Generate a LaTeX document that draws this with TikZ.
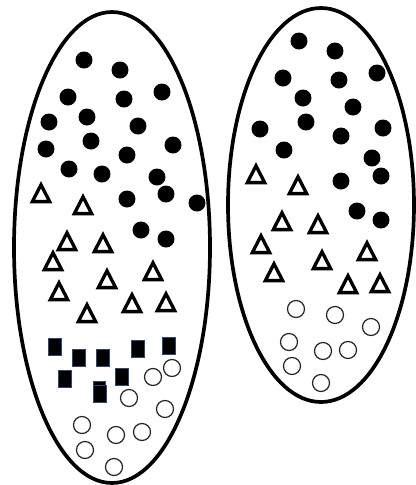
\documentclass[tikz,border=0pt]{standalone}
\usetikzlibrary{shapes.geometric}
\definecolor{sqborder}{HTML}{2F4670}
\tikzset{
  cell/.style={draw=black, line width=2.1pt, fill=white},
  dot/.style={circle, fill=black, inner sep=0pt, minimum size=0.34cm},
  ring/.style={circle, draw=black!85, line width=0.7pt, inner sep=0pt, minimum size=0.34cm},
  tri/.style={regular polygon, regular polygon sides=3, draw=black, line width=1.9pt, inner sep=0pt, minimum size=0.40cm, miter limit=4, yscale=1.12, transform shape},
  sq/.style={rectangle, fill=black, draw=sqborder, line width=0.5pt, inner sep=0pt, minimum width=0.27cm, minimum height=0.33cm},
}
\begin{document}
\begin{tikzpicture}[x=0.02cm, y=-0.02cm]
\useasboundingbox (0,0) rectangle (416,485);
% cells
\draw[cell] (112,247.5) ellipse [x radius=98, y radius=235.5];
\draw[cell] (321,205) ellipse [x radius=93, y radius=197];
% left cell: filled dots
\foreach \x/\y [count=\i] in {84/60,120/70,162/92,68/97,124/99,49/122,87/117,138/126,46/149,91/141,173/145,127/155,69/169,102/174,157/177,166/194,127/199,197/203,141/230,166/239}
  \node[dot] (ld\i) at (\x,\y) {};
% left cell: triangles
\foreach \x/\y [count=\i] in {41/196,83/208,67/244,103/246,53/264,153/274,107/282,59/294,166/305,132/306,87/316}
  \node[tri] (lt\i) at (\x,\y) {};
% left cell: squares
\foreach \x/\y [count=\i] in {55/347,79/358,103/358,138/349,169/346,65/379,122/377}
  \node[sq] (ls\i) at (\x,\y) {};
\node[sq, minimum width=0.24cm, minimum height=0.28cm] (ls8) at (99,388) {};
\node[sq] (ls9) at (100,394) {};
% left cell: open circles
\foreach \x/\y [count=\i] in {153/377,172/368,129/398,165/409,82/425,116/435,142/432,85/450,114/467}
  \node[ring] (lr\i) at (\x,\y) {};
% right cell: filled dots
\foreach \x/\y [count=\i] in {299/41,335/51,377/73,283/78,339/80,303/98,353/107,306/122,260/129,383/128,341/136,284/150,372/158,381/176,341/181,357/211,381/220}
  \node[dot] (rd\i) at (\x,\y) {};
% right cell: triangles
\foreach \x/\y [count=\i] in {256/177,298/188,282/224,318/227,261/247,367/254,322/263,274/275,348/287,380/286}
  \node[tri] (rt\i) at (\x,\y) {};
% right cell: open circles
\foreach \x/\y [count=\i] in {296/309,335/315,371/327,289/342,323/351,348/350,292/366,321/383}
  \node[ring] (rr\i) at (\x,\y) {};
\end{tikzpicture}
\end{document}
